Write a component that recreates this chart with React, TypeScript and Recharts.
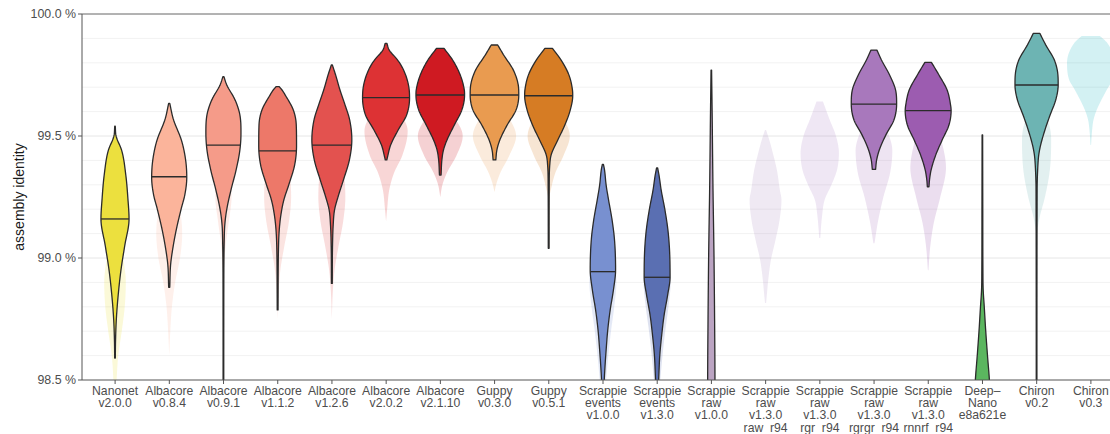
import { BarChart, Bar, XAxis, YAxis, CartesianGrid, ReferenceLine } from 'recharts'

const FONT = '"Liberation Sans", Arial, Helvetica, sans-serif'

const categories = [
  'Nanonet\nv2.0.0', 'Albacore\nv0.8.4', 'Albacore\nv0.9.1', 'Albacore\nv1.1.2', 'Albacore\nv1.2.6',
  'Albacore\nv2.0.2', 'Albacore\nv2.1.10', 'Guppy\nv0.3.0', 'Guppy\nv0.5.1',
  'Scrappie\nevents\nv1.0.0', 'Scrappie\nevents\nv1.3.0', 'Scrappie\nraw\nv1.0.0',
  'Scrappie\nraw\nv1.3.0\nraw_r94', 'Scrappie\nraw\nv1.3.0\nrgr_r94', 'Scrappie\nraw\nv1.3.0\nrgrgr_r94',
  'Scrappie\nraw\nv1.3.0\nrnnrf_r94', 'Deep–\nNano\ne8a621e', 'Chiron\nv0.2', 'Chiron\nv0.3',
]

const colors = [
  '#ece03e', '#fbb49b', '#f59b89', '#ed7869', '#e3524f', '#dd3234', '#cf1a22', '#e99b50', '#d67c24',
  '#7890d0', '#5a6fb2', '#bba4c2', '#ad93c4', '#ad86c6', '#a878bc', '#9c5cb0', '#5bb65f', '#6db4b3', '#22b8c2',
]

// medians of the solid violins (null = no solid violin)
const medians = [
  99.16, 99.333, 99.463, 99.439, 99.463, 99.657, 99.668, 99.668, 99.665,
  98.944, 98.921, 98.35, null, null, 99.631, 99.604, 98.3, 99.709, null,
]

// [identity %, violin width in category units], top to bottom
const mainProfiles: (number[][] | null)[] = [
  [[99.54, 0.01], [99.5, 0.04], [99.44, 0.25], [99.34, 0.4], [99.24, 0.48], [99.16, 0.52], [99.05, 0.36], [98.95, 0.22], [98.85, 0.12], [98.75, 0.05], [98.66, 0.02], [98.59, 0.012]],
  [[99.634, 0.02], [99.57, 0.15], [99.48, 0.46], [99.4, 0.61], [99.33, 0.65], [99.26, 0.58], [99.2, 0.44], [99.115, 0.26], [99.03, 0.12], [98.97, 0.05], [98.88, 0.02]],
  [[99.743, 0.02], [99.71, 0.12], [99.648, 0.43], [99.586, 0.61], [99.512, 0.65], [99.443, 0.61], [99.361, 0.47], [99.279, 0.28], [99.197, 0.12], [99.135, 0.05], [99.074, 0.03], [98.9, 0.015], [98.45, 0.012]],
  [[99.702, 0.06], [99.689, 0.16], [99.668, 0.28], [99.607, 0.58], [99.545, 0.69], [99.46, 0.7], [99.381, 0.63], [99.299, 0.41], [99.238, 0.23], [99.176, 0.12], [99.115, 0.06], [99.033, 0.03], [98.787, 0.015]],
  [[99.791, 0.02], [99.75, 0.14], [99.689, 0.3], [99.627, 0.49], [99.566, 0.66], [99.484, 0.74], [99.402, 0.65], [99.32, 0.43], [99.258, 0.25], [99.197, 0.1], [99.135, 0.05], [99.05, 0.025], [98.896, 0.015]],
  [[99.88, 0.03], [99.852, 0.12], [99.811, 0.43], [99.77, 0.65], [99.709, 0.83], [99.656, 0.87], [99.586, 0.76], [99.525, 0.45], [99.463, 0.17], [99.422, 0.07], [99.402, 0.03]],
  [[99.859, 0.14], [99.811, 0.46], [99.75, 0.74], [99.689, 0.89], [99.668, 0.9], [99.607, 0.8], [99.545, 0.52], [99.484, 0.25], [99.443, 0.12], [99.402, 0.06], [99.34, 0.03]],
  [[99.873, 0.12], [99.832, 0.34], [99.77, 0.7], [99.709, 0.88], [99.668, 0.9], [99.607, 0.8], [99.545, 0.47], [99.484, 0.2], [99.443, 0.09], [99.402, 0.05]],
  [[99.859, 0.14], [99.811, 0.46], [99.75, 0.75], [99.689, 0.88], [99.665, 0.89], [99.607, 0.8], [99.545, 0.6], [99.484, 0.34], [99.422, 0.09], [99.381, 0.04], [99.3, 0.02], [99.04, 0.015]],
  [[99.384, 0.02], [99.361, 0.06], [99.299, 0.12], [99.238, 0.21], [99.156, 0.34], [99.074, 0.43], [98.951, 0.47], [98.869, 0.39], [98.787, 0.27], [98.705, 0.18], [98.623, 0.12], [98.541, 0.07], [98.5, 0.05], [98.42, 0.02]],
  [[99.369, 0.02], [99.34, 0.07], [99.279, 0.15], [99.197, 0.29], [99.115, 0.4], [99.033, 0.46], [98.922, 0.48], [98.848, 0.39], [98.766, 0.26], [98.684, 0.17], [98.602, 0.1], [98.52, 0.065], [98.42, 0.03]],
  [[99.77, 0.01], [99.6, 0.03], [99.3, 0.06], [99.0, 0.1], [98.7, 0.125], [98.5, 0.135], [98.3, 0.13], [98.0, 0.1]],
  null,
  null,
  [[99.852, 0.11], [99.811, 0.28], [99.75, 0.58], [99.689, 0.8], [99.631, 0.84], [99.566, 0.74], [99.504, 0.44], [99.443, 0.2], [99.402, 0.1], [99.363, 0.06]],
  [[99.802, 0.12], [99.75, 0.4], [99.689, 0.7], [99.627, 0.83], [99.604, 0.85], [99.545, 0.77], [99.484, 0.52], [99.422, 0.28], [99.361, 0.11], [99.32, 0.05], [99.292, 0.03]],
  [[99.504, 0.01], [99.2, 0.015], [98.95, 0.02], [98.87, 0.03], [98.8, 0.07], [98.7, 0.125], [98.6, 0.19], [98.5, 0.26], [98.4, 0.3], [98.2, 0.3]],
  [[99.921, 0.12], [99.873, 0.34], [99.811, 0.66], [99.75, 0.79], [99.709, 0.8], [99.648, 0.71], [99.586, 0.5], [99.525, 0.31], [99.463, 0.15], [99.422, 0.08], [99.361, 0.04], [99.279, 0.02], [98.4, 0.012]],
  null,
]

// faded violins drawn behind
const ghostProfiles: (number[][] | null)[] = [
  [[99.2, 0], [99.1, 0.12], [99.0, 0.3], [98.9, 0.4], [98.8, 0.36], [98.7, 0.25], [98.6, 0.12], [98.5, 0.06], [98.4, 0.03]],
  [[99.4, 0], [99.3, 0.2], [99.2, 0.4], [99.1, 0.48], [99.0, 0.4], [98.9, 0.22], [98.8, 0.1], [98.7, 0.04], [98.6, 0]],
  [[99.55, 0], [99.45, 0.15], [99.35, 0.3], [99.25, 0.3], [99.15, 0.2], [99.05, 0.08], [98.95, 0.02], [98.85, 0]],
  [[99.55, 0], [99.45, 0.3], [99.35, 0.45], [99.25, 0.5], [99.15, 0.42], [99.05, 0.25], [98.95, 0.1], [98.85, 0.03], [98.75, 0]],
  [[99.55, 0], [99.45, 0.3], [99.35, 0.45], [99.25, 0.5], [99.15, 0.42], [99.05, 0.25], [98.95, 0.1], [98.85, 0.03], [98.75, 0]],
  [[99.7, 0], [99.62, 0.4], [99.52, 0.8], [99.42, 0.6], [99.35, 0.3], [99.28, 0.12], [99.2, 0.04], [99.15, 0]],
  [[99.65, 0], [99.58, 0.5], [99.5, 0.83], [99.42, 0.6], [99.35, 0.25], [99.3, 0.08], [99.25, 0]],
  [[99.65, 0], [99.58, 0.5], [99.5, 0.8], [99.42, 0.55], [99.35, 0.22], [99.3, 0.06], [99.27, 0]],
  [[99.65, 0], [99.58, 0.5], [99.5, 0.78], [99.42, 0.55], [99.35, 0.25], [99.28, 0.08], [99.24, 0]],
  [[99.2, 0], [99.1, 0.2], [99.0, 0.4], [98.9, 0.5], [98.8, 0.42], [98.7, 0.3], [98.6, 0.2], [98.5, 0.12], [98.4, 0.06]],
  [[99.2, 0], [99.1, 0.2], [99.0, 0.4], [98.9, 0.5], [98.8, 0.42], [98.7, 0.3], [98.6, 0.2], [98.5, 0.12], [98.4, 0.06]],
  null,
  [[99.525, 0.02], [99.48, 0.15], [99.443, 0.24], [99.361, 0.42], [99.279, 0.53], [99.238, 0.59], [99.156, 0.52], [99.074, 0.37], [98.992, 0.2], [98.91, 0.1], [98.85, 0.05], [98.816, 0.02]],
  [[99.641, 0.12], [99.566, 0.37], [99.504, 0.59], [99.43, 0.71], [99.361, 0.64], [99.299, 0.43], [99.238, 0.18], [99.176, 0.09], [99.115, 0.04], [99.082, 0.02]],
  [[99.65, 0.1], [99.55, 0.4], [99.44, 0.68], [99.35, 0.6], [99.25, 0.35], [99.15, 0.15], [99.06, 0.02]],
  [[99.6, 0.2], [99.5, 0.45], [99.37, 0.66], [99.25, 0.45], [99.15, 0.22], [99.05, 0.08], [98.95, 0.01]],
  null,
  [[99.62, 0.1], [99.55, 0.45], [99.48, 0.54], [99.36, 0.49], [99.25, 0.31], [99.17, 0.12], [99.11, 0.02]],
  [[99.91, 0.34], [99.88, 0.62], [99.8, 0.88], [99.73, 0.8], [99.689, 0.59], [99.607, 0.22], [99.566, 0.1], [99.525, 0.05], [99.463, 0.01]],
]

const yTicks = [98.5, 99.0, 99.5, 100.0]
const minorGrid = [98.6, 98.7, 98.8, 98.9, 99.1, 99.2, 99.3, 99.4, 99.6, 99.7, 99.8, 99.9]
const Y_MIN = yTicks[0]
const Y_MAX = yTicks[yTicks.length - 1]

const data = categories.map((name, i) => ({ name, i, span: [Y_MIN, Y_MAX] }))

// monotone cubic interpolation of width against value
function makeInterp(profile: number[][]) {
  const pts = [...profile].sort((a, b) => a[0] - b[0])
  const xs = pts.map(p => p[0])
  const ys = pts.map(p => p[1])
  const n = xs.length
  const d: number[] = []
  const m: number[] = []
  for (let i = 0; i < n - 1; i++) d[i] = (ys[i + 1] - ys[i]) / (xs[i + 1] - xs[i])
  m[0] = d[0]
  m[n - 1] = d[n - 2]
  for (let i = 1; i < n - 1; i++) m[i] = d[i - 1] * d[i] <= 0 ? 0 : (d[i - 1] + d[i]) / 2
  for (let i = 0; i < n - 1; i++) {
    if (d[i] === 0) { m[i] = 0; m[i + 1] = 0; continue }
    const a = m[i] / d[i], b = m[i + 1] / d[i], s = a * a + b * b
    if (s > 9) { const t = 3 / Math.sqrt(s); m[i] = t * a * d[i]; m[i + 1] = t * b * d[i] }
  }
  return (x: number) => {
    if (x <= xs[0]) return ys[0]
    if (x >= xs[n - 1]) return ys[n - 1]
    let i = 0
    while (x > xs[i + 1]) i++
    const h = xs[i + 1] - xs[i]
    const t = (x - xs[i]) / h
    const t2 = t * t, t3 = t2 * t
    const v = (2 * t3 - 3 * t2 + 1) * ys[i] + (t3 - 2 * t2 + t) * h * m[i] + (-2 * t3 + 3 * t2) * ys[i + 1] + (t3 - t2) * h * m[i + 1]
    return Math.max(0, v)
  }
}

function violinPath(profile: number[][], cx: number, band: number, toY: (v: number) => number) {
  const f = makeInterp(profile)
  const vals = profile.map(p => p[0])
  const hi = Math.max(...vals), lo = Math.min(...vals)
  const steps = 160
  const right: string[] = []
  const left: string[] = []
  for (let k = 0; k <= steps; k++) {
    const v = hi - (hi - lo) * k / steps
    const hw = f(v) * band / 2
    const py = toY(v).toFixed(2)
    right.push(`${(cx + hw).toFixed(2)},${py}`)
    left.unshift(`${(cx - hw).toFixed(2)},${py}`)
  }
  return `M${right.join('L')}L${left.join('L')}Z`
}

function Violin(props: any) {
  const { x, y, width, height, payload } = props
  const i = payload.i
  const top = Math.min(y, y + height)
  const bottom = Math.max(y, y + height)
  const toY = (v: number) => bottom - ((v - Y_MIN) / (Y_MAX - Y_MIN)) * (bottom - top)
  const cx = x + width / 2
  const main = mainProfiles[i]
  const ghost = ghostProfiles[i]
  const med = medians[i]
  const clipId = `violin-clip-${i}`
  let medLine = null
  if (main && med != null) {
    const hw = makeInterp(main)(med) * width / 2
    medLine = <line x1={cx - hw} x2={cx + hw} y1={toY(med)} y2={toY(med)} stroke="#2b2b2b" strokeWidth={1.3} />
  }
  return (
    <g>
      <defs>
        <clipPath id={clipId}>
          <rect x={x - width} y={top} width={width * 3} height={bottom - top} />
        </clipPath>
      </defs>
      <g clipPath={`url(#${clipId})`}>
        {ghost && <path d={violinPath(ghost, cx, width, toY)} fill={colors[i]} fillOpacity={0.2} stroke="none" />}
        {main && <path d={violinPath(main, cx, width, toY)} fill={colors[i]} stroke="#2b2b2b" strokeWidth={1.3} strokeLinejoin="round" />}
        {medLine}
      </g>
    </g>
  )
}

function CategoryTick({ x, y, payload }: any) {
  const lines = String(payload.value).split('\n')
  return (
    <text x={x} y={y} textAnchor="middle" fill="#4d4d4d" fontSize={12.2} fontFamily={FONT}>
      {lines.map((l, k) => (
        <tspan key={k} x={x} dy={k === 0 ? 9.2 : 12.1}>{l}</tspan>
      ))}
    </text>
  )
}

function YTitle({ viewBox }: any) {
  const cy = viewBox ? viewBox.y + viewBox.height / 2 : 197
  return (
    <text x={19} y={cy} transform={`rotate(-90 19 ${cy})`} textAnchor="middle" dominantBaseline="central"
      fill="#1a1a1a" fontSize={14} fontFamily={FONT}>
      assembly identity
    </text>
  )
}

export default function App() {
  return (
    <div style={{ position: 'absolute', left: 0, top: 0, width: 1110, height: 434, overflow: 'hidden', background: '#fff' }}>
      <BarChart width={1124} height={434} data={data} margin={{ top: 14, right: 0, bottom: 0, left: 0 }} barCategoryGap={0}>
        <CartesianGrid vertical={false} horizontalValues={minorGrid} stroke="#f2f2f2" strokeWidth={1} />
        <CartesianGrid vertical={false} horizontalValues={[99.0, 99.5]} stroke="#e6e6e6" strokeWidth={1} />
        <XAxis
          dataKey="name"
          interval={0}
          tick={<CategoryTick />}
          tickSize={4}
          height={54}
          padding={{ left: 6, right: 6 }}
          axisLine={{ stroke: '#555' }}
          tickLine={{ stroke: '#555' }}
        />
        <YAxis
          type="number"
          domain={[Y_MIN, Y_MAX]}
          ticks={yTicks}
          allowDataOverflow
          width={82}
          tickSize={4}
          tickFormatter={(v: number) => `${v.toFixed(1)} %`}
          tick={{ fill: '#4d4d4d', fontSize: 12.4, fontFamily: FONT }}
          axisLine={{ stroke: '#555' }}
          tickLine={{ stroke: '#555' }}
          label={<YTitle />}
        />
        <ReferenceLine y={Y_MAX} stroke="#666" strokeWidth={1} />
        <Bar dataKey="span" shape={<Violin />} isAnimationActive={false} />
      </BarChart>
    </div>
  )
}
